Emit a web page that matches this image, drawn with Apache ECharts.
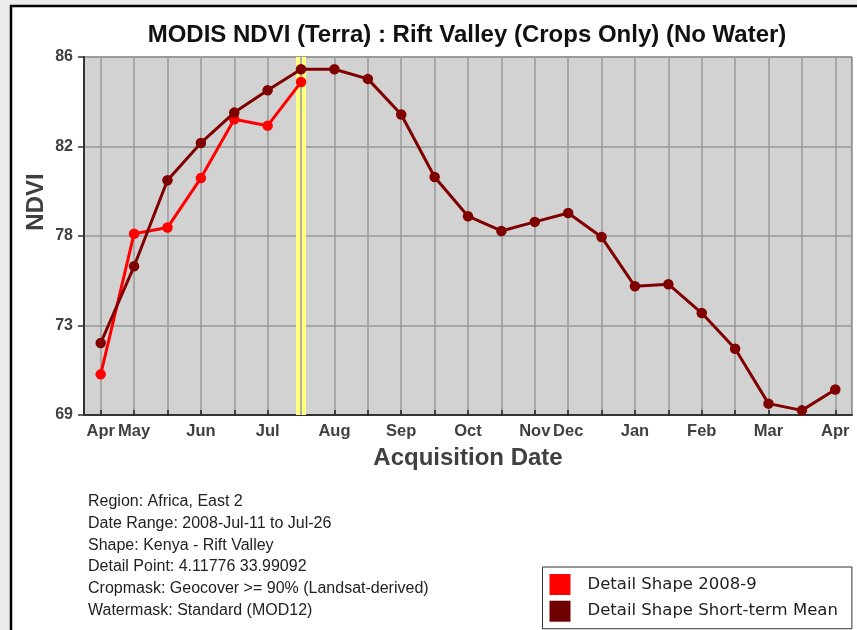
<!DOCTYPE html>
<html><head><meta charset="utf-8">
<script src="https://cdn.jsdelivr.net/npm/echarts@6/dist/echarts.min.js"></script>
<style>html,body{margin:0;padding:0;background:#fff}#c{width:857px;height:630px}</style>
</head><body><div id="c"></div>
<script>
// 16-day composite periods (2008-9)
const categories = ['Apr-06','Apr-22','May-08','May-24','Jun-09','Jun-25','Jul-11','Jul-27','Aug-12','Aug-28','Sep-13','Sep-29','Oct-15','Oct-31','Nov-16','Dec-02','Dec-18','Jan-01','Jan-17','Feb-02','Feb-18','Mar-06','Mar-22'];
const tickLabels = ['Apr','May','','Jun','','Jul','','Aug','','Sep','','Oct','','Nov','Dec','','Jan','','Feb','','Mar','','Apr'];
const currentSeason = [70.93,77.61,77.90,80.25,83.04,82.74,84.81];
const shortTermMean = [72.42,76.06,80.15,81.92,83.36,84.42,85.42,85.42,84.96,83.27,80.30,78.44,77.74,78.17,78.59,77.45,75.11,75.21,73.84,72.15,69.54,69.22,70.21];
const highlightIndex = 6;
const yMin = 69, yMax = 86, yStep = 4.25;
const infoLines = ['Region: Africa, East 2','Date Range: 2008-Jul-11 to Jul-26','Shape: Kenya - Rift Valley','Detail Point: 4.11776 33.99092','Cropmask: Geocover >= 90% (Landsat-derived)','Watermask: Standard (MOD12)'];
const titleText = 'MODIS NDVI (Terra) : Rift Valley (Crops Only) (No Water)';
const seriesNames = ['Detail Shape 2008-9','Detail Shape Short-term Mean'];

const chart = echarts.init(document.getElementById('c'), null, {renderer:'canvas'});
const axisTxt = '#404040';
chart.setOption({
  animation:false,
  backgroundColor:'#ececec',
  graphic:[
    {type:'rect', z:-10, shape:{x:11,y:6,width:900,height:700}, style:{fill:'#fff', stroke:'#000', lineWidth:2.5}},
    {type:'text', z:10, x:467, y:35, style:{text:titleText, font:'bold 24px "Liberation Sans", Arial, sans-serif', fill:'#111', textAlign:'center', textVerticalAlign:'middle'}},
    {type:'text', z:10, x:36, y:202, rotation:Math.PI/2, style:{text:'NDVI', font:'bold 24px "Liberation Sans", Arial, sans-serif', fill:axisTxt, textAlign:'center', textVerticalAlign:'middle'}},
    {type:'text', z:10, x:88, y:491, style:{text:infoLines.join('\n'), font:'16px "Liberation Sans", Arial, sans-serif', lineHeight:21.7, fill:'#222', textAlign:'left', textVerticalAlign:'top'}}
  ],
  grid:{left:84, top:57, width:768, height:358, show:true, backgroundColor:'#d2d2d2', borderColor:'#555', borderWidth:1},
  xAxis:{
    type:'category', data:categories, boundaryGap:true,
    name:'Acquisition Date', nameLocation:'middle', nameGap:31,
    nameTextStyle:{fontFamily:'"Liberation Sans", Arial, sans-serif', fontWeight:'bold', fontSize:24, color:axisTxt},
    axisLine:{show:true, lineStyle:{color:'#333', width:2}},
    axisTick:{show:true, inside:true, length:5, alignWithLabel:true, interval:0, lineStyle:{color:'#222', width:1.5}},
    axisLabel:{interval:0, margin:8, formatter:(v,i)=>tickLabels[i], fontFamily:'"Liberation Sans", Arial, sans-serif', fontWeight:'bold', fontSize:16.5, color:axisTxt},
    splitLine:{show:true, alignWithLabel:true, interval:0, lineStyle:{color:'#999', width:1.5}}
  },
  yAxis:{
    type:'value', min:yMin, max:yMax, interval:yStep,
    axisLine:{show:true, lineStyle:{color:'#333', width:2}},
    axisTick:{show:true, inside:false, length:6, lineStyle:{color:'#333', width:1.5}},
    axisLabel:{margin:11, formatter:v=>String(Math.round(v)), fontFamily:'"Liberation Sans", Arial, sans-serif', fontWeight:'bold', fontSize:16, color:axisTxt},
    splitLine:{show:true, lineStyle:{color:'#999', width:1.5}}
  },
  legend:{
    orient:'vertical', left:542.5, top:567, padding:[7,14,7,7], itemWidth:21, itemHeight:21, itemGap:5.7,
    icon:'rect', borderColor:'#333', borderWidth:1, borderRadius:0, backgroundColor:'#fff',
    textStyle:{fontFamily:'"DejaVu Sans", sans-serif', fontSize:16.5, color:'#222', padding:[0,0,0,12]},
    data:[{name:seriesNames[0], itemStyle:{color:'#ff0000'}},{name:seriesNames[1], itemStyle:{color:'#6e0000'}}]
  },
  series:[
    {name:seriesNames[0], type:'line', data:currentSeason, symbol:'circle', symbolSize:10.5, z:2,
     lineStyle:{color:'#ff0000', width:3}, itemStyle:{color:'#ff0000'},
     markLine:{silent:true, z:1, symbol:['none','none'], label:{show:false},
       data:[{xAxis:highlightIndex, lineStyle:{color:'#ffff80', width:10, type:'solid'}},
             {xAxis:highlightIndex, lineStyle:{color:'#999', width:1.5, type:'solid'}}]}},
    {name:seriesNames[1], type:'line', data:shortTermMean, symbol:'circle', symbolSize:10.5, z:3,
     lineStyle:{color:'#800000', width:3}, itemStyle:{color:'#800000'}}
  ]
});
</script></body></html>
